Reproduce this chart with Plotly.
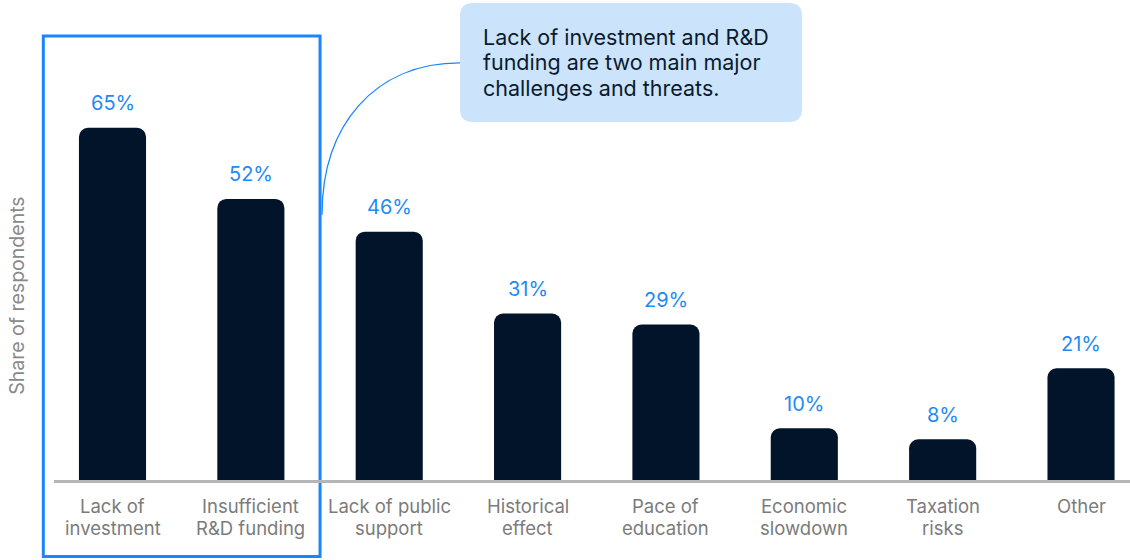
import plotly.graph_objects as go

# Survey results: main challenges and threats
categories = ["Lack of<br>investment", "Insufficient<br>R&D funding", "Lack of public<br>support",
              "Historical<br>effect", "Pace of<br>education", "Economic<br>slowdown",
              "Taxation<br>risks", "Other"]
shares = [65, 52, 46, 31, 29, 10, 8, 21]
value_labels = [f"{v}%" for v in shares]
callout_lines = ["Lack of investment and R&D",
                 "funding are two main major",
                 "challenges and threats."]

W, H = 1130, 560
M_L, M_R, M_T, M_B = 54, 0, 0, 76.6
PLOT_W = W - M_L - M_R
PLOT_H = H - M_T - M_B
X_RANGE = [-0.4228, 7.354]
Y_RANGE = [0, 88.4]

NAVY = "#021429"
BLUE = "#1a85ff"
LABEL_BLUE = "#1f8af5"
GREY_TEXT = "#7b7b7b"
FONT = "Inter, Lato, sans-serif"


def px_to_paper_x(p):
    return (p - M_L) / PLOT_W


def px_to_paper_y(p):
    return (M_T + PLOT_H - p) / PLOT_H


def data_x_to_paper(x):
    return (x - X_RANGE[0]) / (X_RANGE[1] - X_RANGE[0])


x_idx = list(range(len(categories)))

fig = go.Figure(go.Bar(
    x=x_idx, y=shares, width=0.485,
    marker=dict(color=NAVY, line=dict(width=0)),
    hoverinfo="skip",
))

annotations = []
# value labels above bars
for i, (v, t) in enumerate(zip(shares, value_labels)):
    annotations.append(dict(x=i, y=v, xref="x", yref="y", text=t, showarrow=False,
                            yanchor="middle", yshift=24.5,
                            font=dict(family=FONT, size=20, color=LABEL_BLUE)))
# category labels under the baseline, one annotation per line for tight leading
for i, c in enumerate(categories):
    for k, line in enumerate(c.split("<br>")):
        annotations.append(dict(x=i, y=px_to_paper_y(506.5 + 21.5 * k), xref="x", yref="paper",
                                text=line, showarrow=False, yanchor="middle",
                                font=dict(family=FONT, size=18.5, color=GREY_TEXT)))
# axis title
annotations.append(dict(x=px_to_paper_x(17), y=px_to_paper_y(296), xref="paper", yref="paper",
                        text="Share of respondents", textangle=-90, showarrow=False,
                        xanchor="center", yanchor="middle",
                        font=dict(family=FONT, size=19.5, color="#8a8a8a")))
# callout text
for k, line in enumerate(callout_lines):
    annotations.append(dict(x=px_to_paper_x(481), y=px_to_paper_y(37 + 25.5 * k),
                            xref="paper", yref="paper", text=line, showarrow=False,
                            xanchor="left", yanchor="middle",
                            font=dict(family=FONT, size=21.5, color="#0b1a2e")))


def rounded_rect_path(x0, y0, x1, y1, r):
    # pixel box -> paper path with rounded corners
    X = px_to_paper_x
    Y = px_to_paper_y
    return (f"M {X(x0 + r)},{Y(y0)} L {X(x1 - r)},{Y(y0)} Q {X(x1)},{Y(y0)} {X(x1)},{Y(y0 + r)} "
            f"L {X(x1)},{Y(y1 - r)} Q {X(x1)},{Y(y1)} {X(x1 - r)},{Y(y1)} "
            f"L {X(x0 + r)},{Y(y1)} Q {X(x0)},{Y(y1)} {X(x0)},{Y(y1 - r)} "
            f"L {X(x0)},{Y(y0 + r)} Q {X(x0)},{Y(y0)} {X(x0 + r)},{Y(y0)} Z")


box_left = data_x_to_paper(-0.5)
box_right = data_x_to_paper(1.5)
shapes = [
    # highlight frame around the two leading answers
    dict(type="rect", xref="paper", yref="paper",
         x0=box_left, x1=box_right, y0=px_to_paper_y(557), y1=px_to_paper_y(36),
         line=dict(color=BLUE, width=3), fillcolor="rgba(0,0,0,0)"),
    # callout bubble
    dict(type="path", xref="paper", yref="paper", path=rounded_rect_path(460, 3, 802, 122, 13),
         fillcolor="#cce4fb", line=dict(width=0), layer="below"),
    # connector
    dict(type="path", xref="paper", yref="paper",
         path=(f"M {px_to_paper_x(460)},{px_to_paper_y(63)} "
               f"C {px_to_paper_x(375)},{px_to_paper_y(63)} {px_to_paper_x(322)},{px_to_paper_y(125)} "
               f"{px_to_paper_x(322)},{px_to_paper_y(215)}"),
         line=dict(color=BLUE, width=1.3)),
    # baseline
    dict(type="line", xref="paper", yref="paper", x0=0, x1=1,
         y0=px_to_paper_y(482), y1=px_to_paper_y(482),
         line=dict(color="#b5b5b5", width=3), layer="above"),
]

fig.update_layout(
    width=W, height=H,
    margin=dict(l=M_L, r=M_R, t=M_T, b=M_B),
    paper_bgcolor="white", plot_bgcolor="white",
    barcornerradius=9,
    showlegend=False,
    xaxis=dict(range=X_RANGE, showticklabels=False, showgrid=False, zeroline=False,
               showline=False, ticks=""),
    yaxis=dict(range=Y_RANGE, showticklabels=False, showgrid=False, zeroline=False,
               showline=False, ticks=""),
    annotations=annotations,
    shapes=shapes,
)

fig.write_html("out.html")
